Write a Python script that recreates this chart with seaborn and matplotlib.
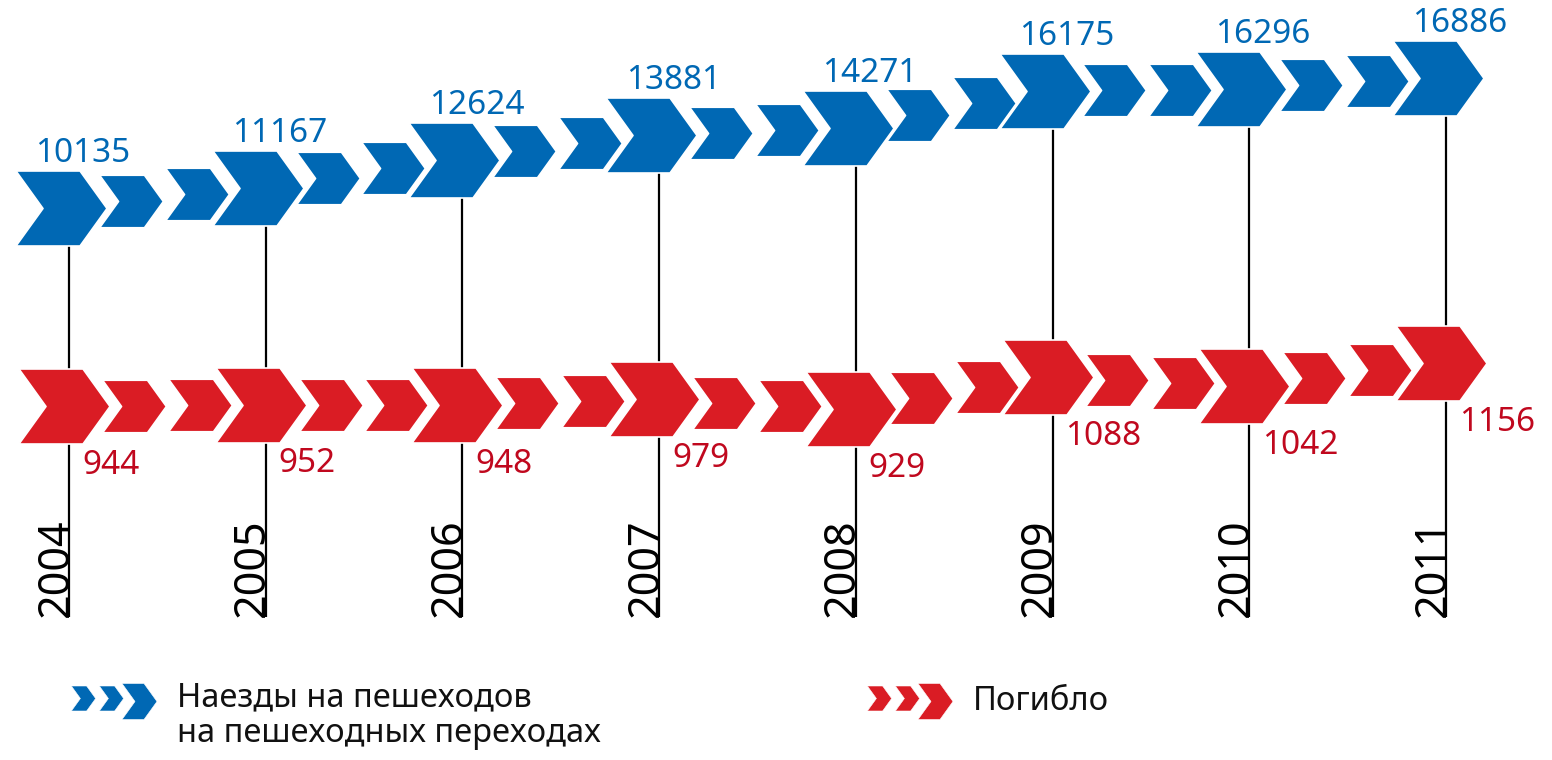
import numpy as np
import matplotlib
matplotlib.use("Agg")
import matplotlib.pyplot as plt
import matplotlib.transforms as mtransforms
from matplotlib.path import Path
import seaborn as sns

# данные
years = [2004, 2005, 2006, 2007, 2008, 2009, 2010, 2011]
naezdy = [10135, 11167, 12624, 13881, 14271, 16175, 16296, 16886]
pogiblo = [944, 952, 948, 979, 929, 1088, 1042, 1156]
legend_labels = ["Наезды на пешеходов\nна пешеходных переходах", "Погибло"]

BLUE = "#0068B4"
RED = "#DA1C24"
RED_TEXT = "#C0081E"

W, H = 1552, 760
PT = 0.72  # pixels -> points at dpi 100

sns.set_theme(style="white")
plt.rcParams["font.family"] = ["Noto Sans", "DejaVu Sans"]

fig = plt.figure(figsize=(W / 100, H / 100), dpi=100)
ax = fig.add_axes([0, 0, 1, 1])
axr = ax.twinx()

XLIM = (2003.6492, 2011.5392)
YLIM_B = (-18494, 20905)
YLIM_R = (-808, 2955)
px_per_year = W / (XLIM[1] - XLIM[0])


def chevron(w, h, depth):
    t = w / 2 - depth
    verts = [(-w / 2, h / 2), (t, h / 2), (w / 2, 0), (t, -h / 2),
             (-w / 2, -h / 2), (-w / 2 + depth, 0), (-w / 2, h / 2)]
    codes = [Path.MOVETO] + [Path.LINETO] * 5 + [Path.CLOSEPOLY]
    return Path(verts, codes)


chev = chevron(91, 75, 27)
s_big = (91 * PT) ** 2
s_small = (91 * 0.7 * PT) ** 2


def chevron_positions(values, shift_px):
    xb = np.array(years, float) + shift_px / px_per_year
    yb = np.array(values, float)
    xs, ys = [], []
    for i in range(len(years) - 1):
        for f in (0.355, 0.69):
            xs.append(xb[i] + f * (xb[i + 1] - xb[i]))
            ys.append(yb[i] + f * (yb[i + 1] - yb[i]))
    return xb, yb, xs, ys


# вертикальные линии годов
y_bottom = YLIM_B[0] + (YLIM_B[1] - YLIM_B[0]) * (1 - 617 / H)
ax.vlines(years, y_bottom, naezdy, color="black", lw=1.6, zorder=1)

for axis, vals, color, shift in [(ax, naezdy, BLUE, -8), (axr, pogiblo, RED, -5)]:
    xb, yb, xs, ys = chevron_positions(vals, shift)
    sns.scatterplot(x=xs, y=ys, marker=chev, s=s_small, color=color,
                    edgecolor="white", linewidth=1.2, ax=axis, zorder=3, legend=False)
    sns.scatterplot(x=xb, y=yb, marker=chev, s=s_big, color=color,
                    edgecolor="white", linewidth=1.2, ax=axis, zorder=4, legend=False)

# подписи значений
for x, v in zip(years, naezdy):
    ax.annotate(f"{v}", (x, v), xytext=(14 * PT, 46 * PT), textcoords="offset points",
                ha="center", va="baseline", fontsize=24, color=BLUE, zorder=2)

for x, v in zip(years, pogiblo):
    axr.annotate(f"{v}", (x, v), xytext=(13 * PT, -67.5 * PT), textcoords="offset points",
                 ha="left", va="baseline", fontsize=24, color=RED_TEXT, zorder=5)

# годы
blend = mtransforms.blended_transform_factory(ax.transData, ax.transAxes)
for x in years:
    ax.text(x - 1.5 / px_per_year, 1 - 617 / H, str(x), transform=blend,
            rotation=90, rotation_mode="anchor", ha="left", va="baseline",
            fontsize=31, color="black")

# легенда
leg_chev = chevron(0.97, 1.0, 0.36)
for x0, color, label, ybase in [(83, BLUE, legend_labels[0], 742),
                                (879, RED, legend_labels[1], 710)]:
    ax.scatter([x0 / W, (x0 + 27.5) / W], [1 - 697.5 / H] * 2, transform=ax.transAxes,
               marker=leg_chev, s=(25 * PT) ** 2, color=color, edgecolor="white",
               linewidth=0.4, clip_on=False)
    ax.scatter([(x0 + 56) / W], [1 - 700.5 / H], transform=ax.transAxes,
               marker=leg_chev, s=(36 * PT) ** 2, color=color, edgecolor="white",
               linewidth=0.4, clip_on=False)
    ax.text((x0 + 94) / W, 1 - ybase / H, label, transform=ax.transAxes,
            ha="left", va="baseline", fontsize=23.5, linespacing=1.12, color="#111111")

ax.set_xlim(*XLIM)
ax.set_ylim(*YLIM_B)
axr.set_ylim(*YLIM_R)
ax.axis("off")
axr.axis("off")

fig.savefig("out.png", dpi=100)
